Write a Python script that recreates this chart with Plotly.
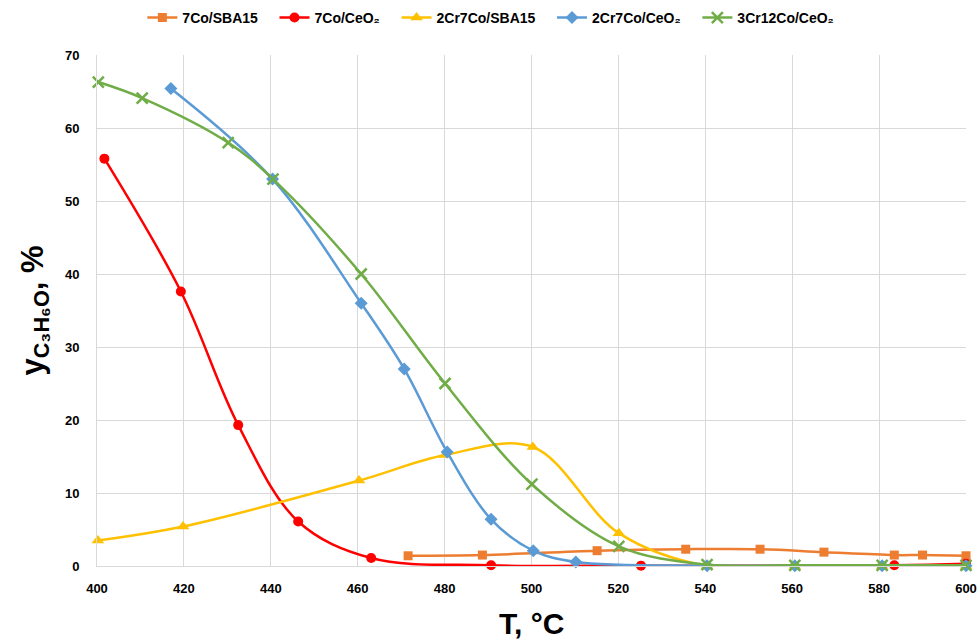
import plotly.graph_objects as go

# ---- data ----
x_7co_sba = [471.6, 488.7, 515.1, 535.5, 552.6, 567.3, 583.5, 590.0, 600.0]
y_7co_sba = [1.4, 1.5, 2.1, 2.3, 2.3, 1.9, 1.5, 1.5, 1.4]

x_7co_ceo = [401.7, 419.3, 432.5, 446.3, 463.1, 490.7, 525.2, 583.5, 600.0]
y_7co_ceo = [55.8, 37.6, 19.3, 6.1, 1.1, 0.1, 0.05, 0.1, 0.3]

x_2cr_sba = [400.2, 419.8, 460.3, 480.1, 500.3, 520.1, 540.4, 560.6, 580.7, 600.0]
y_2cr_sba = [3.5, 5.4, 11.7, 15.2, 16.3, 4.5, 0.0, 0.0, 0.0, 0.0]

x_2cr_ceo = [417.0, 440.4, 460.8, 470.7, 480.6, 490.7, 500.4, 510.2, 540.4, 560.6, 580.7, 600.0]
y_2cr_ceo = [65.4, 53.0, 36.0, 27.0, 15.6, 6.4, 2.1, 0.55, 0.05, 0.05, 0.05, 0.05]

x_3cr_ceo = [400.3, 410.4, 430.2, 440.5, 460.8, 480.1, 500.1, 520.1, 540.4, 560.6, 580.7, 600.0]
y_3cr_ceo = [66.3, 64.1, 58.0, 53.0, 40.0, 25.0, 11.2, 2.7, 0.2, 0.1, 0.1, 0.1]

names = ["7Co/SBA15", "7Co/CeO₂", "2Cr7Co/SBA15", "2Cr7Co/CeO₂", "3Cr12Co/CeO₂"]
colors = ["#ED7D31", "#FF0000", "#FFC000", "#5B9BD5", "#70AD47"]
symbols = ["square", "circle", "triangle-up", "diamond", "x-thin"]
sizes = [9, 10, 11, 10, 11]

x_ticks = list(range(400, 601, 20))
y_ticks = list(range(0, 71, 10))

series = [
    (x_7co_sba, y_7co_sba),
    (x_7co_ceo, y_7co_ceo),
    (x_2cr_sba, y_2cr_sba),
    (x_2cr_ceo, y_2cr_ceo),
    (x_3cr_ceo, y_3cr_ceo),
]

FONT = "Liberation Sans"
PAD = "\u00a0" * 3

fig = go.Figure()
for (xs, ys), name, col, sym, sz in zip(series, names, colors, symbols, sizes):
    marker = dict(symbol=sym, size=sz, color=col)
    if sym == "x-thin":
        marker["line"] = dict(color=col, width=2.5)
    fig.add_trace(go.Scatter(
        x=xs, y=ys, name=name + PAD, mode="lines+markers",
        line=dict(color=col, width=2.5, shape="spline", smoothing=1.0),
        marker=marker, cliponaxis=False,
    ))

fig.update_layout(
    width=980, height=639,
    paper_bgcolor="white", plot_bgcolor="white",
    margin=dict(l=97, r=14, t=55, b=73),
    font=dict(family=FONT, color="black", weight="bold"),
    legend=dict(
        orientation="h", xref="container", x=0.507, xanchor="center",
        yref="container", y=0.997, yanchor="top",
        font=dict(size=14, family=FONT, weight="bold"),
        itemwidth=30,
    ),
    showlegend=True,
    annotations=[dict(
        text="T, °C", xref="paper", yref="paper", x=0.5, y=-0.113,
        xanchor="center", yanchor="middle", showarrow=False,
        font=dict(size=30, family=FONT, weight="bold", color="black"),
    )],
)
fig.update_xaxes(
    range=[400, 600], tickvals=x_ticks, ticktext=[str(v) for v in x_ticks],
    showgrid=True, gridcolor="#d9d9d9", gridwidth=1,
    showline=True, linecolor="#d9d9d9", linewidth=1,
    zeroline=False, ticks="", ticklabelstandoff=10, automargin=False,
    tickfont=dict(size=13, family=FONT, weight="bold"),
)
fig.update_yaxes(
    range=[0, 70], tickvals=y_ticks, ticktext=[str(v) for v in y_ticks],
    showgrid=True, gridcolor="#d9d9d9", gridwidth=1,
    showline=True, linecolor="#d9d9d9", linewidth=1,
    zeroline=False, ticks="", ticklabelstandoff=14, automargin=False,
    tickfont=dict(size=13, family=FONT, weight="bold"),
    title=dict(text="y<sub>C₃H₆O</sub>, %", font=dict(size=31, family=FONT, weight="bold"), standoff=12),
)

# remove the default page margin so the 980x639 figure fills the window exactly
fig.write_html("out.html", config={"displayModeBar": False},
               post_script="document.body.style.margin='0px';")
